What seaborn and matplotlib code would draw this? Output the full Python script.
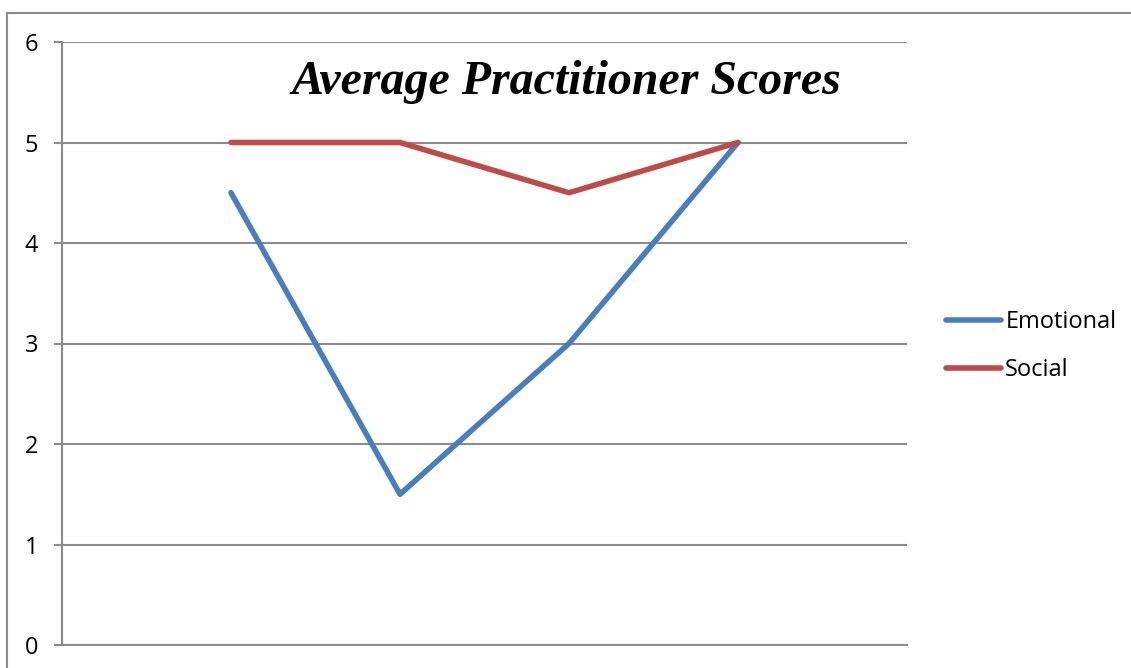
import matplotlib
matplotlib.use("Agg")
import matplotlib.pyplot as plt
import seaborn as sns
import pandas as pd
from matplotlib.patches import Rectangle

# data
sessions = [1, 2, 3, 4]
emotional = [4.5, 1.5, 3.0, 5.0]
social = [5.0, 5.0, 4.5, 5.0]

df = pd.DataFrame({
    "session": sessions * 2,
    "score": emotional + social,
    "series": ["Emotional"] * len(sessions) + ["Social"] * len(sessions),
})

sns.set_theme(style="white")
plt.rcParams["font.family"] = ["Open Sans", "DejaVu Sans"]

fig = plt.figure(figsize=(11.31, 6.68), dpi=100)
ax = fig.add_axes([62 / 1131, 1 - 645 / 668, (907 - 62) / 1131, (645 - 42) / 668])

palette = {"Emotional": "#4A7EBB", "Social": "#BE4B48"}
sns.lineplot(data=df, x="session", y="score", hue="series", palette=palette,
             linewidth=4.0, ax=ax, legend=True, solid_capstyle="round")

ax.set_xlim(0, 5)
ax.set_ylim(0, 6)
ax.set_yticks(range(0, 7))
ax.set_xticks([])
ax.set_xlabel("")
ax.set_ylabel("")
ax.yaxis.grid(True, color="#8c8c8c", linewidth=1.5)
ax.set_axisbelow(True)
for side in ["top", "right"]:
    ax.spines[side].set_visible(False)
for side in ["left", "bottom"]:
    ax.spines[side].set_color("#8c8c8c")
    ax.spines[side].set_linewidth(1.5)
ax.tick_params(axis="y", direction="out", length=6, width=1.5, color="#8c8c8c",
               labelsize=17, labelcolor="black", pad=11, left=True)

leg = ax.legend(loc="center left", bbox_to_anchor=(925 / 1131, 1 - 346 / 668),
                bbox_transform=fig.transFigure, frameon=False, fontsize=17,
                handlelength=2.3, handletextpad=0.2, labelspacing=1.0)
for t in leg.get_texts():
    t.set_color("black")
for h in leg.get_lines():
    h.set_linewidth(4.0)

fig.text(566 / 1131, 1 - 82 / 668, "Average Practitioner Scores",
         ha="center", va="center", fontsize=34.5, fontweight="bold",
         fontstyle="italic", color="black",
         family=["Liberation Serif", "DejaVu Serif"])

# outer chart border (cropped on the right and bottom)
fig.patches.append(Rectangle((7 / 1131, -0.2), 2.0, 1.2 - 13 / 668,
                             transform=fig.transFigure, fill=False,
                             edgecolor="#8c8c8c", linewidth=1.5))

fig.savefig("out.png", dpi=100)
